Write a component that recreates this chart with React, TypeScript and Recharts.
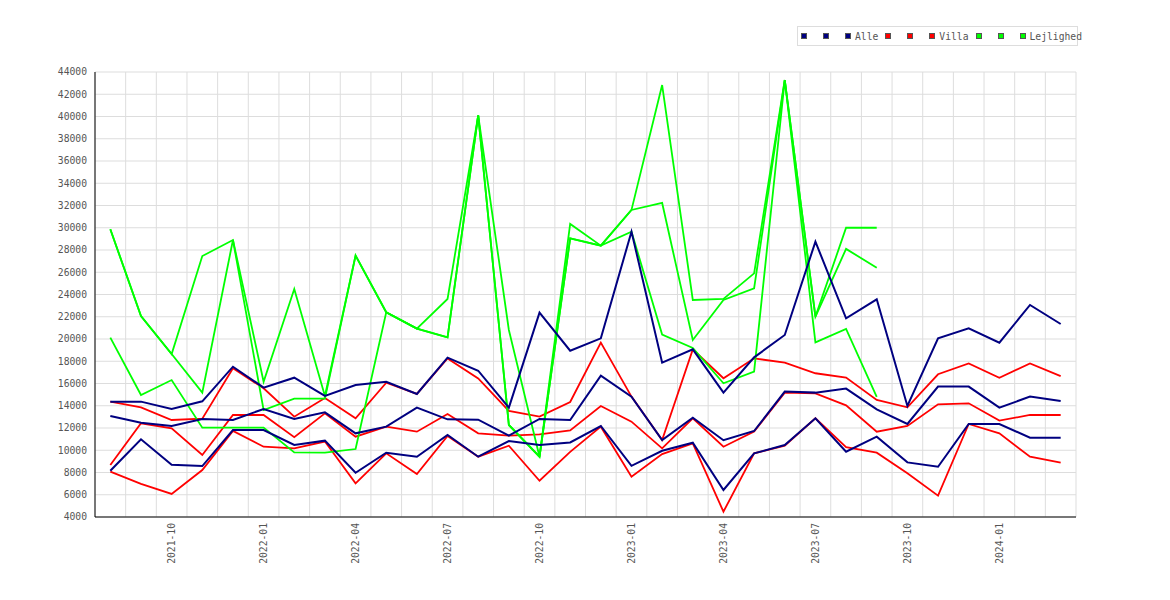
import React from 'react';
import { LineChart, Line, XAxis, YAxis, CartesianGrid } from 'recharts';

const months = [
  '2021-08', '2021-09', '2021-10', '2021-11', '2021-12',
  '2022-01', '2022-02', '2022-03', '2022-04', '2022-05', '2022-06',
  '2022-07', '2022-08', '2022-09', '2022-10', '2022-11', '2022-12',
  '2023-01', '2023-02', '2023-03', '2023-04', '2023-05', '2023-06',
  '2023-07', '2023-08', '2023-09', '2023-10', '2023-11', '2023-12',
  '2024-01', '2024-02', '2024-03',
];

const tickLabels = [
  '2021-10', '2022-01', '2022-04', '2022-07', '2022-10',
  '2023-01', '2023-04', '2023-07', '2023-10', '2024-01',
];

const yTicks = [
  4000, 6000, 8000, 10000, 12000, 14000, 16000, 18000, 20000, 22000, 24000,
  26000, 28000, 30000, 32000, 34000, 36000, 38000, 40000, 42000, 44000,
];

// Alle
const alleHigh = [
  14370, 14370, 13710, 14400, 17510, 15630, 16520, 14880, 15870, 16160, 15060,
  18320, 17150, 13830, 22370, 18950, 20060, 29650, 17870, 19070, 15180, 18350,
  20360, 28750, 21860, 23570, 13980, 20060, 20960, 19670, 23060, 21350,
];
const alleMid = [
  13080, 12480, 12180, 12810, 12720, 13710, 12810, 13410, 11520, 12120, 13830,
  12780, 12750, 11310, 12810, 12720, 16700, 14820, 10920, 12930, 10900, 11730,
  15270, 15180, 15540, 13680, 12360, 15720, 15720, 13830, 14820, 14430,
];
const alleLow = [
  8160, 10980, 8700, 8580, 11820, 11820, 10470, 10860, 7980, 9780, 9420,
  11370, 9420, 10830, 10470, 10700, 12180, 8600, 9950, 10680, 6430, 9720,
  10470, 12870, 9870, 11220, 8910, 8520, 12360, 12360, 11130, 11130,
];

// Villa
const villaHigh = [
  14370, 13860, 12720, 12840, 17360, 15570, 13020, 14700, 12870, 16070, 15060,
  18250, 16450, 13530, 13020, 14340, 19670, 14820, 10920, 19070, 16470, 18260,
  17870, 16920, 16540, 14520, 13860, 16830, 17810, 16520, 17810, 16670,
];
const villaMid = [
  8670, 12420, 11970, 9570, 13170, 13170, 11170, 13320, 11220, 12120, 11670,
  13260, 11520, 11310, 11430, 11790, 13980, 12570, 10170, 12870, 10320, 11680,
  15180, 15120, 14040, 11670, 12180, 14130, 14220, 12660, 13170, 13170,
];
const villaLow = [
  8075, 6970, 6070, 8220, 11730, 10320, 10170, 10780, 7030, 9720, 7870,
  11280, 9420, 10410, 7260, 9850, 12120, 7620, 9660, 10620, 4480, 9720,
  10410, 12870, 10280, 9780, 7930, 5920, 12360, 11520, 9420, 8880,
];

// Lejlighed (ends 2023-09)
const lejHigh = [
  29860, 22070, 18650, 27460, 28900, 16160, 24500, 14880, 27500, 22400, 20930,
  23600, 40100, 20810, 9420, 30340, 28390, 31600, 42830, 23510, 23600, 25900,
  43280, 22010, 30000, 30000,
];
const lejMid = [
  29860, 22070, 18650, 15180, 28900, 13620, 14640, 14640, 27500, 22400, 20930,
  20150, 40100, 12270, 9420, 29050, 28390, 31600, 32230, 19910, 23510, 24550,
  43280, 22010, 28100, 26400,
];
const lejLow = [
  20120, 14970, 16310, 12030, 12030, 12030, 9800, 9780, 10110, 22400, 20930,
  20150, 40100, 12270, 9420, 29050, 28390, 29650, 20400, 19200, 16020, 17060,
  43280, 19700, 20900, 14800,
];

const chartData = months.map((month, i) => ({
  month,
  pos: i,
  alleHigh: alleHigh[i],
  alleMid: alleMid[i],
  alleLow: alleLow[i],
  villaHigh: villaHigh[i],
  villaMid: villaMid[i],
  villaLow: villaLow[i],
  lejHigh: lejHigh[i] ?? null,
  lejMid: lejMid[i] ?? null,
  lejLow: lejLow[i] ?? null,
}));

const tickPositions = tickLabels.map(label => months.indexOf(label));
// grid lines sit on the month boundaries
const gridValues = [...months.map((_, i) => i - 0.5), months.length - 0.5];

const FONT = '"DejaVu Sans Mono", monospace';
const TEXT = '#555';

const legendItems = [
  { label: 'Alle', color: '#000080' },
  { label: 'Villa', color: '#ff0000' },
  { label: 'Lejlighed', color: '#00ff00' },
];

const XTick = ({ x, y, payload }: any) => (
  <text
    x={x}
    y={y}
    transform={`rotate(-90 ${x} ${y})`}
    textAnchor="end"
    dy="0.35em"
    fill={TEXT}
    fontSize={9.7}
    fontFamily={FONT}
  >
    {months[payload.value]}
  </text>
);

const gridX = ({ xAxis }: any) => {
  const s = xAxis.scale;
  return gridValues.map(v => (typeof s === 'function' ? s(v) : s.map(v)));
};

const Square = ({ color, gap }: { color: string; gap: number }) => (
  <span style={{
    display: 'inline-block', width: 4, height: 4, background: color,
    border: '1px solid #555', marginRight: gap, flexShrink: 0,
  }} />
);

export default function App() {
  return (
    <div style={{ position: 'absolute', left: 0, top: 0, width: 1170, height: 600, background: '#fff' }}>
      <LineChart
        width={1170}
        height={600}
        data={chartData}
        margin={{ top: 72, right: 94, bottom: 23, left: 35 }}
      >
        <CartesianGrid stroke="#ddd" verticalCoordinatesGenerator={gridX} />
        <XAxis
          dataKey="pos"
          type="number"
          domain={[-0.5, months.length - 0.5]}
          ticks={tickPositions}
          interval={0}
          tick={<XTick />}
          tickLine={false}
          tickSize={4}
          tickMargin={2}
          height={60}
          axisLine={{ stroke: '#000' }}
        />
        <YAxis
          type="number"
          domain={[4000, 44000]}
          ticks={yTicks}
          interval={0}
          width={60}
          tickLine={false}
          axisLine={{ stroke: '#000' }}
          tick={{ fill: TEXT, fontSize: 9.7, fontFamily: FONT }}
        />
        <Line dataKey="villaHigh" stroke="#ff0000" strokeWidth={1.8} dot={false} isAnimationActive={false} />
        <Line dataKey="villaMid" stroke="#ff0000" strokeWidth={1.8} dot={false} isAnimationActive={false} />
        <Line dataKey="villaLow" stroke="#ff0000" strokeWidth={1.8} dot={false} isAnimationActive={false} />
        <Line dataKey="lejHigh" stroke="#00ff00" strokeWidth={1.8} dot={false} isAnimationActive={false} />
        <Line dataKey="lejMid" stroke="#00ff00" strokeWidth={1.8} dot={false} isAnimationActive={false} />
        <Line dataKey="lejLow" stroke="#00ff00" strokeWidth={1.8} dot={false} isAnimationActive={false} />
        <Line dataKey="alleHigh" stroke="#000080" strokeWidth={2} dot={false} isAnimationActive={false} />
        <Line dataKey="alleMid" stroke="#000080" strokeWidth={2} dot={false} isAnimationActive={false} />
        <Line dataKey="alleLow" stroke="#000080" strokeWidth={2} dot={false} isAnimationActive={false} />
      </LineChart>

      <div style={{
        position: 'absolute', left: 797, top: 26, width: 276, height: 18,
        border: '1px solid #ddd', background: '#fff', display: 'flex', alignItems: 'center',
        paddingLeft: 3, boxSizing: 'content-box', whiteSpace: 'nowrap', overflow: 'visible',
        fontFamily: FONT, fontSize: 9.7, color: TEXT,
      }}>
        {legendItems.map(item => (
          <span key={item.label} style={{ display: 'inline-flex', alignItems: 'center', marginRight: 7 }}>
            <Square color={item.color} gap={16} />
            <Square color={item.color} gap={16} />
            <Square color={item.color} gap={4} />
            {item.label}
          </span>
        ))}
      </div>
    </div>
  );
}
